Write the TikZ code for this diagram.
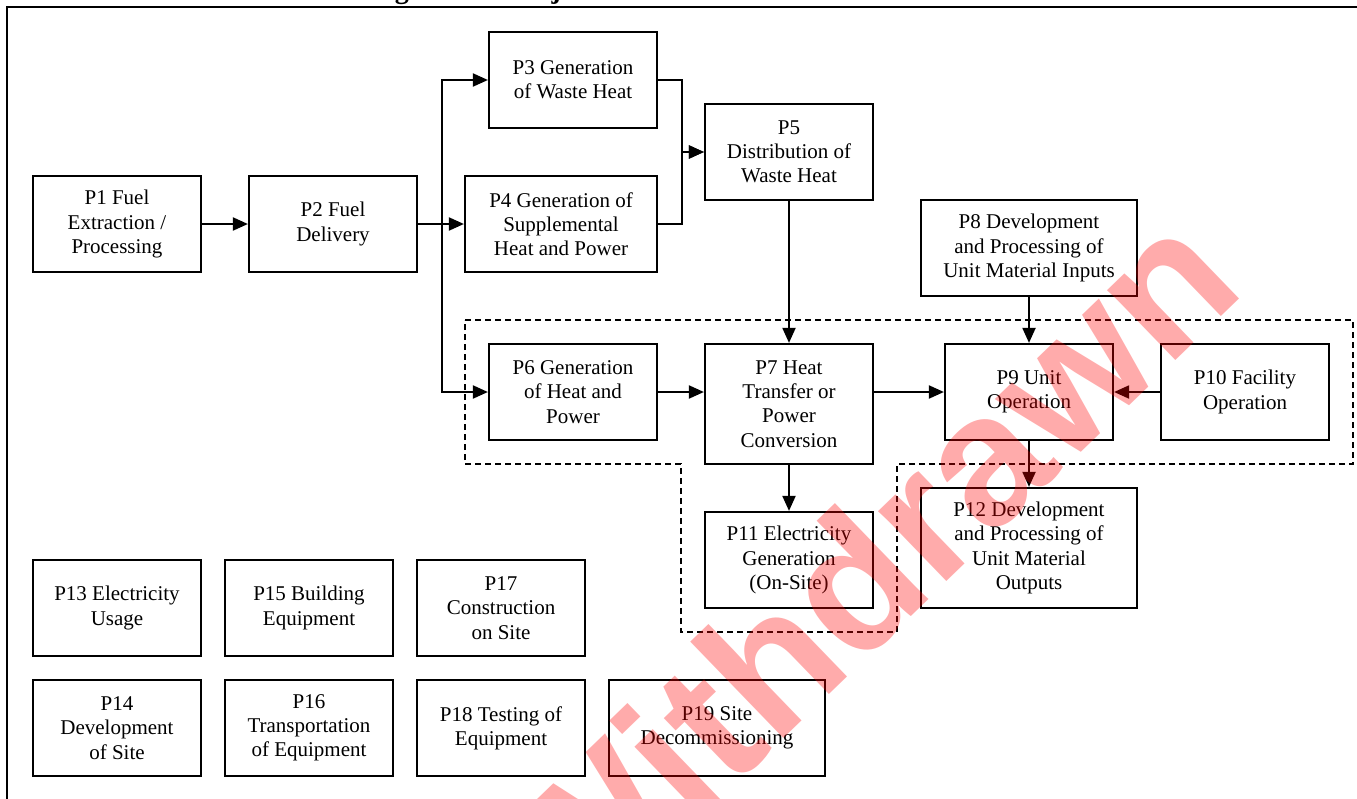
\documentclass[tikz,border=0pt]{standalone}
\usepackage{fontspec}
\setmainfont{Liberation Serif}
\newfontfamily\wmfont{Liberation Sans}
\usetikzlibrary{arrows.meta}

\tikzset{
  procbox/.style={draw, line width=2.2pt, inner sep=0pt, align=center,
    font=\fontsize{21}{24.2}\selectfont},
  arr/.style={line width=2pt, -{Triangle[length=15pt,width=13pt]}},
  zone/.style={line width=2pt, dash pattern=on 6pt off 4pt},
  frame/.style={line width=2.4pt},
}

\begin{document}
\begin{tikzpicture}[x=1pt,y=-1pt]
\useasboundingbox (0,0) rectangle (1357,798);
\clip (0,0) rectangle (1357,798);

% page frame and caption
\draw[frame] (7,820) -- (7,7) -- (1370,7);
\node[anchor=base east, inner sep=0pt, font=\bfseries\fontsize{28}{32}\selectfont] (title) at (722,-2) {Unit Process Flow Diagram for Project Condition};

% process boxes
\node[procbox, minimum width=168pt, minimum height=96pt] (p1) at (117,224) {P1 Fuel\\Extraction /\\Processing};
\node[procbox, minimum width=168pt, minimum height=96pt] (p2) at (333,224) {P2 Fuel\\Delivery};
\node[procbox, minimum width=168pt, minimum height=96pt] (p3) at (573,80) {P3 Generation\\of Waste Heat};
\node[procbox, minimum width=192pt, minimum height=96pt] (p4) at (561,224) {P4 Generation of\\Supplemental\\Heat and Power};
\node[procbox, minimum width=168pt, minimum height=96pt] (p5) at (789,152) {P5\\Distribution of\\Waste Heat};
\node[procbox, minimum width=216pt, minimum height=96pt] (p8) at (1029,248) {P8 Development\\and Processing of\\Unit Material Inputs};
\node[procbox, minimum width=168pt, minimum height=96pt] (p6) at (573,392) {P6 Generation\\of Heat and\\Power};
\node[procbox, minimum width=168pt, minimum height=120pt] (p7) at (789,404) {P7 Heat\\Transfer or\\Power\\Conversion};
\node[procbox, minimum width=168pt, minimum height=96pt] (p9) at (1029,392) {P9 Unit\\Operation};
\node[procbox, minimum width=168pt, minimum height=96pt] (p10) at (1245,392) {P10 Facility\\Operation};
\node[procbox, minimum width=168pt, minimum height=96pt] (p11) at (789,560) {P11 Electricity\\Generation\\(On-Site)};
\node[procbox, minimum width=216pt, minimum height=120pt] (p12) at (1029,548) {P12 Development\\and Processing of\\Unit Material\\Outputs};

% site-related activities
\node[procbox, minimum width=168pt, minimum height=96pt] (p13) at (117,608) {P13 Electricity\\Usage};
\node[procbox, minimum width=168pt, minimum height=96pt] (p15) at (309,608) {P15 Building\\Equipment};
\node[procbox, minimum width=168pt, minimum height=96pt] (p17) at (501,608) {P17\\Construction\\on Site};
\node[procbox, minimum width=168pt, minimum height=96pt] (p14) at (117,728) {P14\\Development\\of Site};
\node[procbox, minimum width=168pt, minimum height=96pt] (p16) at (309,728) {P16\\Transportation\\of Equipment};
\node[procbox, minimum width=168pt, minimum height=96pt] (p18) at (501,728) {P18 Testing of\\Equipment};
\node[procbox, minimum width=216pt, minimum height=96pt] (p19) at (717,728) {P19 Site\\Decommissioning};

% on-site boundary
\draw[zone] (465,320) -- (1353,320) -- (1353,464) -- (897,464) -- (897,632)
  -- (681,632) -- (681,464) -- (465,464) -- cycle;

% flows
\draw[arr] (p1) -- (p2);
\draw[arr] (p2.east) -- (p4.west);
\draw[arr] (p2.east) -- ++(24,0) |- (p3.west);
\draw[arr] (p2.east) -- ++(24,0) |- (p6.west);
\draw[arr] (p3.east) -- ++(24,0) |- (p5.west);
\draw[arr] (p4.east) -- ++(24,0) |- (p5.west);
\draw[arr] (p5.south) -- (p7.north);
\draw[arr] (p6.east) -- (p6.east -| p7.west);
\draw[arr] (p9.west -| p7.east) -- (p9.west);
\draw[arr] (p10.west) -- (p9.east);
\draw[arr] (p8.south) -- (p9.north);
\draw[arr] (p9.south) -- (p12.north);
\draw[arr] (p7.south) -- (p11.north);

% status stamp
\node[rotate=44, anchor=base east, inner sep=0pt, text=red, text opacity=0.33,
  font=\wmfont\bfseries\fontsize{185}{185}\selectfont] (stamp) at (1248,291) {Withdrawn};
\end{tikzpicture}
\end{document}
